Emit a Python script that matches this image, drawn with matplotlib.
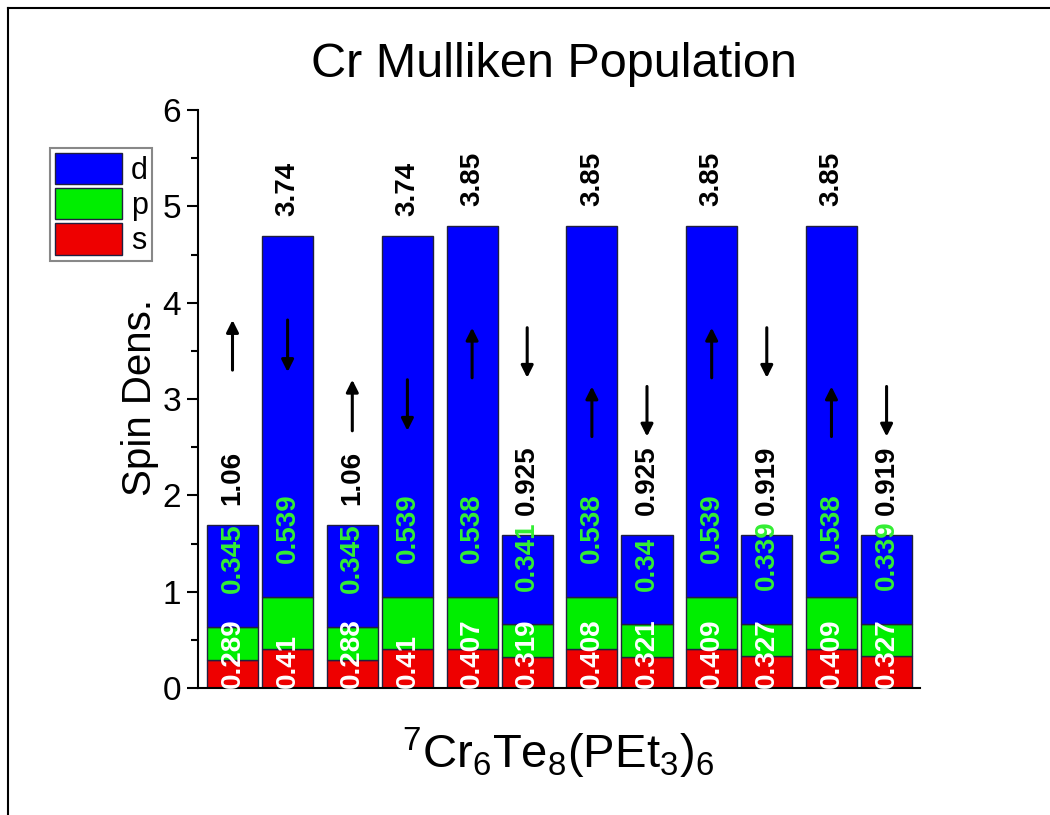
import matplotlib
matplotlib.use('Agg')
import matplotlib.pyplot as plt
from matplotlib.lines import Line2D
from matplotlib.ticker import MultipleLocator

plt.rcParams['font.family'] = ['Liberation Sans', 'DejaVu Sans']

# ---- data ----
groups = [0, 1, 2, 3, 4, 5]  # six Cr pairs
s_vals = [0.289, 0.41, 0.288, 0.41, 0.407, 0.319, 0.408, 0.321, 0.409, 0.327, 0.409, 0.327]
p_vals = [0.345, 0.539, 0.345, 0.539, 0.538, 0.341, 0.538, 0.34, 0.539, 0.339, 0.538, 0.339]
d_vals = [1.06, 3.74, 1.06, 3.74, 3.85, 0.925, 3.85, 0.925, 3.85, 0.919, 3.85, 0.919]
spins = ['up', 'down', 'up', 'down', 'up', 'down', 'up', 'down', 'up', 'down', 'up', 'down']
arrow_lo = [3.30, 3.28, 2.67, 2.67, 3.22, 3.22, 2.61, 2.61, 3.22, 3.22, 2.61, 2.61]
arrow_hi = [3.82, 3.82, 3.20, 3.20, 3.74, 3.74, 3.13, 3.13, 3.74, 3.74, 3.13, 3.13]

c_s, c_p, c_d = '#ee0000', '#00ee00', '#0000ff'
lab_green = '#33ee33'

fig = plt.figure(figsize=(10.5, 8.15), dpi=100)
W, H = 1050, 815
ax = fig.add_axes([198 / W, 1 - 688 / H, (920 - 198) / W, (688 - 110) / H])

offset = 0.23
width = 0.426
xs = []
for g in groups:
    xs += [g - offset, g + offset]

bottoms_p = s_vals
bottoms_d = [s + p for s, p in zip(s_vals, p_vals)]
ek = dict(edgecolor='#202040', linewidth=1.0)
bs = ax.bar(xs, s_vals, width, color=c_s, label='s', **ek)
bp = ax.bar(xs, p_vals, width, bottom=bottoms_p, color=c_p, label='p', **ek)
bd = ax.bar(xs, d_vals, width, bottom=bottoms_d, color=c_d, label='d', **ek)

fs_lab = 20
for i, x in enumerate(xs):
    total = s_vals[i] + p_vals[i] + d_vals[i]
    ax.text(x, 0.005, f"{s_vals[i]:g}", rotation=90, ha='center', va='bottom',
            color='white', fontsize=fs_lab, fontweight='bold', zorder=5)
    ax.text(x, bottoms_d[i] + 0.35, f"{p_vals[i]:g}", rotation=90, ha='center', va='bottom',
            color=lab_green, fontsize=fs_lab, fontweight='bold', zorder=5)
    ax.text(x, total + 0.21, f"{d_vals[i]:g}", rotation=90, ha='center', va='bottom',
            color='black', fontsize=fs_lab, fontweight='bold', zorder=5)
    if spins[i] == 'up':
        tail, head = arrow_lo[i], arrow_hi[i]
    else:
        tail, head = arrow_hi[i], arrow_lo[i]
    ax.annotate('', xy=(x, head), xytext=(x, tail),
                arrowprops=dict(arrowstyle='-|>', color='black', lw=2.2,
                                mutation_scale=18, shrinkA=0, shrinkB=0), zorder=6)

ax.set_xlim(-0.518, 5.509)
ax.set_ylim(0, 6)
ax.spines['top'].set_visible(False)
ax.spines['right'].set_visible(False)
ax.spines['left'].set_linewidth(1.5)
ax.spines['bottom'].set_linewidth(1.5)
ax.set_xticks([])
ax.yaxis.set_major_locator(MultipleLocator(1))
ax.yaxis.set_minor_locator(MultipleLocator(0.5))
ax.tick_params(axis='y', which='major', direction='out', length=8, width=1.5,
               labelsize=24, pad=4)
ax.tick_params(axis='y', which='minor', direction='out', length=5, width=1.5)

fig.text(554 / W, 1 - 77 / H, 'Cr Mulliken Population', ha='center', va='baseline',
         fontsize=35)
fig.text(558 / W, 1 - 768 / H, r'$\mathregular{^{7}Cr_{6}Te_{8}(PEt_{3})_{6}}$',
         ha='center', va='baseline', fontsize=34)
fig.text(140 / W, 1 - 397 / H, 'Spin Dens.', rotation=90, ha='center', va='center',
         fontsize=29)

leg = fig.legend(handles=[bd, bp, bs], labels=['d', 'p', 's'], loc='upper left',
                 bbox_to_anchor=(50 / W, 1 - 148 / H), bbox_transform=fig.transFigure,
                 fontsize=22, frameon=True, fancybox=False, framealpha=1,
                 edgecolor='#888888', handlelength=2.2, handleheight=1.2,
                 labelspacing=0.08, handletextpad=0.3, borderpad=0.15, borderaxespad=0)
leg.get_frame().set_linewidth(1.5)

# outer frame lines (top and left)
fig.add_artist(Line2D([8 / W, 8 / W], [0, 1 - 8 / H], transform=fig.transFigure,
                      color='black', lw=1.5))
fig.add_artist(Line2D([8 / W, 1], [1 - 8 / H, 1 - 8 / H], transform=fig.transFigure,
                      color='black', lw=1.5))

fig.savefig('out.png', dpi=100)
